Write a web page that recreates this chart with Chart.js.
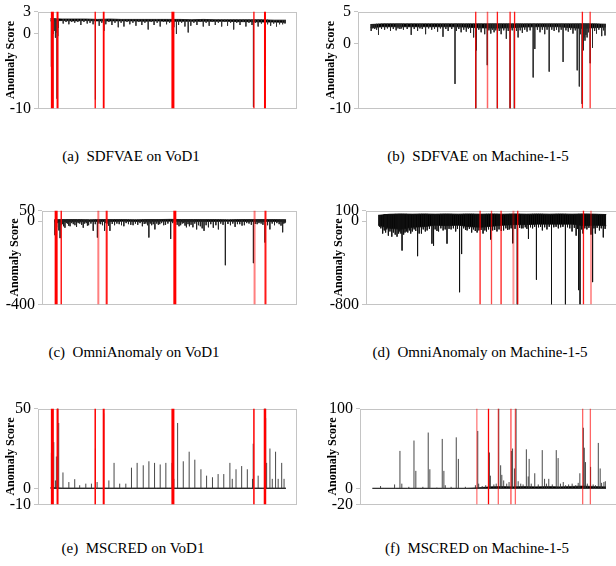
<!DOCTYPE html>
<html><head><meta charset="utf-8">
<script src="https://cdn.jsdelivr.net/npm/chart.js@4"></script>
<style>
html,body{margin:0;padding:0;width:616px;height:566px;overflow:hidden;background:#fff;position:relative;}
.cap{position:absolute;font-family:"Liberation Serif","Times New Roman",Times,"DejaVu Serif",serif;font-size:15px;line-height:17px;color:#000;white-space:pre;transform:translateX(-50%);}
</style></head><body>
<script>
// ---------- data (time index 0..1000) ----------
const BAND_STEP = 50;
const anomaliesLeft  = [8, 30, 190, 226, 520, 864, 911];
const anomaliesRight = [447, 497, 539, 593, 612, 900, 933];

// (a) SDFVAE on VoD1
const aTicks = [3, 0, -10];
const aBandTop = [2.05,2.0,2.0,2.0,1.95,2.0,1.95,1.95,1.95,1.95,1.95,1.95,1.9,1.95,1.9,1.9,1.9,1.9,1.9,1.85,1.85];
const aBandBot = [1.75,1.8,1.75,1.8,1.75,1.75,1.75,1.75,1.7,1.75,1.7,1.7,1.7,1.7,1.7,1.7,1.65,1.65,1.6,1.6,1.55];
const aSpikeIdx = [4,8,12,16,21,25,28,31,34,54,66,78,90,103,116,129,142,156,168,181,191,207,218,227,235,248,261,274,288,300,312,325,337,350,363,375,388,401,415,428,440,453,466,480,493,506,518,524,535,544,557,571,585,596,609,622,636,649,661,674,687,700,713,727,740,752,765,778,791,805,818,830,843,856,862,870,882,896,911,922,935,948,960,973,986,996];
const aSpikeVal = [-4.4,-1.0,0.0,0.4,-0.5,0.2,-8.7,-0.3,0.8,1.4,1.6,1.3,1.6,1.5,1.6,1.2,1.6,1.4,1.5,1.3,-8.8,1.1,1.5,0.4,1.3,1.6,1.2,1.5,0.9,1.5,1.0,1.6,1.3,1.5,1.1,1.6,1.2,1.5,0.6,1.6,1.2,1.5,1.0,1.6,1.3,1.5,0.5,0.9,0.0,1.2,1.5,1.0,0.2,1.1,1.5,1.2,1.6,1.0,1.5,1.1,1.6,1.2,1.5,1.0,1.6,1.1,1.5,0.6,1.5,1.2,1.6,1.0,1.5,1.2,-9.8,1.5,1.0,1.4,-4.3,1.3,1.1,1.4,1.0,1.3,1.3,1.4];

// (b) SDFVAE on Machine-1-5
const bTicks = [5, 0, -10];
const bBandTop = [3.0,3.1,3.1,3.1,3.1,3.1,3.1,3.1,3.1,3.1,3.1,3.1,3.1,3.1,3.1,3.1,3.1,3.1,3.1,3.1,3.05];
const bBandBot = [2.5,2.65,2.65,2.65,2.65,2.65,2.65,2.65,2.6,2.5,2.45,2.45,2.5,2.6,2.65,2.65,2.65,2.5,2.4,2.5,2.6];
const bSpikeIdx = [3,10,18,26,34,47,60,72,85,97,109,117,125,132,140,156,173,186,200,210,220,234,247,260,272,285,297,308,320,330,345,359,365,375,385,396,407,416,425,438,447,450,460,470,485,496,503,511,518,525,532,539,547,555,566,577,585,593,602,611,620,627,636,645,655,665,678,691,698,709,720,730,740,750,759,770,780,790,800,810,818,830,840,850,860,870,878,887,892,899,902,904,907,911,915,920,926,933,943,952,960,970,982,990,996];
const bSpikeVal = [2.0,2.4,2.3,2.2,1.4,2.3,2.2,2.4,2.0,2.3,2.1,2.4,2.3,2.4,2.2,2.3,1.4,2.3,2.0,2.4,2.3,1.5,2.4,2.2,2.3,1.9,2.4,1.1,2.3,2.0,2.3,-6.2,2.0,2.3,1.8,2.2,1.9,2.3,1.7,1.0,-10,-1.0,2.2,1.8,1.5,-3.3,2.1,1.6,2.2,1.8,2.1,-10,2.0,1.5,2.1,0.8,2.0,-10,2.1,-10,2.0,1.0,2.1,1.7,2.2,1.9,2.1,-5.2,-0.8,2.2,1.8,2.2,1.5,2.2,-4.3,2.2,2.0,2.2,1.8,2.2,-2.8,2.1,1.9,2.2,1.6,2.1,-4.1,-6.6,1.5,-9.3,0.2,-1.0,1.0,0.5,1.4,1.0,1.8,-3.0,-0.6,2.0,1.6,2.2,1.2,2.1,1.3];

// (c) OmniAnomaly on VoD1
const cTicks = [50, 0, -400];
const cBandTop = [6,7,7,6,7,7,7,6,7,7,8,7,7,7,7,6,7,7,7,7,6];
const cBandBot = [-4,-2,-2,-2,-2,-2,-1,-2,-2,-1,-1,-2,-2,-2,-2,-1,-2,-2,-2,-2,-3];
const cSpikeIdx = [3,10,15,20,25,30,35,40,46,52,57,62,68,75,82,89,96,103,110,118,125,131,138,143,148,158,168,177,186,193,200,208,217,222,228,234,240,250,260,270,280,290,300,310,320,330,340,350,360,370,380,388,395,402,408,414,420,427,434,442,449,455,463,472,480,490,502,511,521,530,538,545,552,558,564,570,577,583,590,598,606,614,622,630,638,646,655,665,675,686,697,708,718,728,738,749,760,770,780,790,800,810,820,830,840,850,859,867,875,883,892,900,909,920,930,940,950,960,970,978,985,990,995];
const cSpikeVal = [-68,-30,-10,-45,-82,-20,-15,-25,-32,-10,-12,-22,-25,-10,-15,-20,-28,-10,-12,-18,-32,-12,-10,-22,-20,-12,-47,-15,-79,-12,-15,-20,-47,-10,-12,-22,-47,-14,-20,-12,-15,-20,-25,-10,-15,-18,-20,-12,-18,-10,-25,-14,-12,-20,-79,-12,-20,-15,-40,-12,-18,-15,-10,-20,-18,-12,-86,-10,-12,-18,-25,-20,-12,-10,-22,-30,-15,-25,-18,-30,-12,-40,-20,-25,-35,-47,-20,-30,-15,-32,-20,-40,-12,-18,-212,-14,-20,-12,-28,-15,-15,-22,-20,-10,-12,-18,-202,-14,-15,-10,-12,-18,-103,-20,-40,-12,-20,-10,-15,-22,-54,-12,-10];

// (d) OmniAnomaly on Machine-1-5
const dTicks = [100, 0, -800];
const dBandTop = [55,65,68,66,68,66,68,66,68,66,68,66,68,66,68,66,68,66,68,66,62];
const dBandBot = [-40,-70,-80,-60,-55,-40,-45,-40,-55,-60,-50,-40,-35,-35,-30,-30,-30,-30,-45,-40,-45];
const dSpikeIdx = [3,6,12,20,27,33,38,45,52,60,67,75,83,90,95,100,105,112,118,124,130,137,143,150,158,165,173,180,190,198,207,215,225,236,243,250,258,265,275,285,294,302,311,320,330,340,348,357,366,375,383,390,400,410,418,426,434,442,451,460,468,475,484,493,502,511,521,530,540,550,560,568,575,583,590,600,610,620,628,635,645,652,659,668,677,686,694,703,712,720,730,740,750,760,770,780,790,800,810,821,830,840,850,860,868,874,879,885,892,898,906,915,924,933,940,946,952,960,970,978,987,995];
const dSpikeVal = [-40,-54,-70,-120,-90,-110,-80,-140,-100,-150,-110,-130,-150,-120,-100,-120,-283,-130,-110,-100,-110,-90,-120,-100,-80,-95,-337,-120,-120,-80,-100,-90,-75,-217,-237,-80,-95,-100,-70,-90,-80,-217,-75,-80,-70,-100,-75,-683,-317,-70,-85,-90,-75,-110,-80,-95,-110,-90,-85,-120,-90,-100,-80,-177,-90,-85,-100,-80,-95,-90,-70,-85,-80,-70,-214,-75,-800,-65,-70,-70,-60,-75,-171,-60,-70,-55,-563,-60,-55,-90,-60,-80,-55,-800,-60,-55,-70,-60,-55,-800,-60,-70,-100,-65,-140,-75,-663,-800,-80,-120,-70,-80,-65,-130,-586,-70,-120,-65,-90,-70,-157,-75];

// (e) MSCRED on VoD1
const eTicks = [50, 0, -10];
const eBandTop = [0.6,0.3,0.3,0.3,0.3,0.3,0.3,0.3,0.3,0.3,0.3,0.3,0.3,0.3,0.3,0.3,0.3,0.3,0.3,0.3,0.3];
const eBandBot = [0,0,0,0,0,0,0,0,0,0,0,0,0,0,0,0,0,0,0,0,0];
const eSpikeIdx = [4,8,14,21,25,31,35,53,78,103,124,150,174,191,198,226,248,270,294,320,344,368,394,418,442,466,490,516,524,540,564,589,613,639,663,688,712,736,762,772,788,812,836,858,861,882,911,914,918,932,942,956,967,982,992];
const eSpikeVal = [22.3,12,29,5,20,60,41,10,4,5.8,2,3,3,25,4,47,5,16,3,3,13,16,14.5,17,16,15,16,16,6,41,17,23,18,12,8,7,9,9,16,6,12,14,12,6,28,8,60,44,16,25,6,23,6,16,6];

// (f) MSCRED on Machine-1-5
const fTicks = [100, 0, -20];
const fBandTop = [0.3,0.3,0.3,0.3,0.3,0.3,0.3,0.3,0.3,0.8,2.0,2.5,2.0,2.5,2.0,2.5,2.0,2.5,3.0,2.5,2.0];
const fBandBot = [0,0,0,0,0,0,0,0,0,0,0,0,0,0,0,0,0,0,0,0,0];
const fSpikeIdx = [35,95,118,126,156,178,186,216,239,246,276,299,306,312,337,359,368,398,441,451,455,470,485,501,505,520,530,541,549,554,562,575,585,595,600,608,615,624,635,645,659,667,671,680,695,710,727,737,745,755,770,787,795,805,817,827,840,855,870,881,888,903,907,912,920,934,945,955,967,975,981,991,997];
const fSpikeVal = [3,5,47,6,2,60,22,2,70,24,1,62,22,4,2,64,37,2,4,72,6,3,4,45,16,5,6,100,29,17,10,6,8,47,50,25,100,9,6,5,49,15,37,6,19,5,48,12,6,12,5,48,38,6,8,4,5,6,4,7,19,76,51,33,6,27,5,4,57,25,7,8,9];

// ---------- rendering ----------
const SERIF = '"Liberation Serif", "Times New Roman", Times, "DejaVu Serif", serif';
const X_MIN = -53, X_MAX = 1047;
const framePlugin = {
  id: 'frame',
  beforeDatasetsDraw(c) {
    const {ctx, chartArea: a} = c;
    ctx.save();
    ctx.strokeStyle = '#c4c4c4';
    ctx.lineWidth = 1;
    ctx.strokeRect(Math.round(a.left) + 0.5, Math.round(a.top) + 0.5,
                   Math.round(a.right - a.left) - 1, Math.round(a.bottom - a.top) - 1);
    ctx.restore();
  }
};

function bandPoints(arr) { return arr.map((v, i) => ({x: i * BAND_STEP, y: v})); }

function makePanel(g, yMin, yMax, ticks, bandTop, bandBot, spikeIdx, spikeVal, anomalies, redW, redA, bandW, spikeColor) {
  const cv = document.createElement('canvas');
  cv.width = 45 + g.w + 2; cv.height = g.h + 14;
  cv.style.cssText = `position:absolute;left:${g.l - 45}px;top:${g.t - 10}px;width:${cv.width}px;height:${cv.height}px`;
  document.body.appendChild(cv);
  const ds = [];
  anomalies.forEach((a, i) => ds.push({
    data: [{x: a, y: yMin}, {x: a, y: yMax}],
    borderColor: `rgba(255,0,0,${redA[i]})`, borderWidth: redW[i], fill: false
  }));
  const sp = [];
  spikeIdx.forEach((s, i) => {
    const v = spikeVal[i];
    const k = Math.min(bandTop.length - 1, Math.round(s / BAND_STEP));
    const base = v < bandBot[k] ? bandTop[k] : bandBot[k];
    sp.push({x: s, y: base}, {x: s, y: v}, {x: s, y: null});
  });
  ds.push({data: sp, borderColor: spikeColor, borderWidth: 0.9, spanGaps: false, fill: false});
  ds.push({data: bandPoints(bandTop), borderColor: '#000', borderWidth: bandW, fill: '+1', backgroundColor: '#000'});
  ds.push({data: bandPoints(bandBot), borderColor: '#000', borderWidth: bandW, fill: false});
  new Chart(cv, {
    type: 'line',
    data: {datasets: ds},
    options: {
      responsive: false, animation: false, events: [],
      layout: {padding: {top: 10, right: 2, bottom: 4, left: 0}},
      plugins: {legend: {display: false}, tooltip: {enabled: false}},
      elements: {point: {radius: 0}, line: {tension: 0}},
      scales: {
        x: {type: 'linear', min: X_MIN, max: X_MAX, display: false},
        y: {
          type: 'linear', min: yMin, max: yMax,
          afterBuildTicks: s => { s.ticks = ticks.map(v => ({value: v})); },
          afterFit: s => { s.width = 45; },
          border: {display: false},
          grid: {drawOnChartArea: false, drawTicks: true, tickLength: 4, color: '#c4c4c4'},
          ticks: {autoSkip: false, padding: 3, color: '#000', font: {family: SERIF, size: 16}},
          title: {display: true, text: 'Anomaly Score', color: '#000',
                  font: {family: SERIF, size: 12, weight: 'bold'}, padding: {top: 10.8, bottom: 0}}
        }
      }
    },
    plugins: [framePlugin]
  });
}

makePanel({l: 38, t: 9, w: 259, h: 108}, -10, 3, aTicks, aBandTop, aBandBot, aSpikeIdx, aSpikeVal,
  anomaliesLeft, [3, 2, 1.3, 1.8, 3, 1.3, 2], [1, 1, 1, 1, 1, 1, 1], 0.8, '#333');
makePanel({l: 358, t: 9, w: 259, h: 108}, -10, 5, bTicks, bBandTop, bBandBot, bSpikeIdx, bSpikeVal,
  anomaliesRight, [1.3, 1.5, 1.3, 1.3, 1.3, 1.3, 1.3], [0.9, 0.6, 0.9, 0.9, 0.9, 0.9, 0.8], 0.8, '#2a2a2a');
makePanel({l: 42, t: 208, w: 255, h: 105}, -400, 50, cTicks, cBandTop, cBandBot, cSpikeIdx, cSpikeVal,
  anomaliesLeft, [3, 1.5, 2, 2, 3, 2, 2], [1, 0.9, 0.5, 0.9, 1, 0.5, 0.9], 0.7, '#222');
makePanel({l: 366, t: 208, w: 251, h: 105}, -800, 100, dTicks, dBandTop, dBandBot, dSpikeIdx, dSpikeVal,
  anomaliesRight, [1.3, 1.3, 1.3, 2, 1.3, 1.3, 2], [0.9, 0.7, 0.9, 0.4, 0.9, 0.9, 0.4], 0.8, '#111');
makePanel({l: 38, t: 406, w: 259, h: 107}, -10, 50, eTicks, eBandTop, eBandBot, eSpikeIdx, eSpikeVal,
  anomaliesLeft, [3, 2, 1.5, 2, 3, 1.5, 2.5], [1, 1, 1, 1, 1, 1, 1], 0.6, '#333');
makePanel({l: 360, t: 406, w: 257, h: 107}, -20, 100, fTicks, fBandTop, fBandBot, fSpikeIdx, fSpikeVal,
  anomaliesRight, [1.5, 1.3, 1.3, 1.3, 1.3, 1.3, 1.3], [0.45, 1, 0.6, 0.7, 0.6, 0.6, 0.6], 0.6, '#333');

// captions
const captions = [
  ['(a)  SDFVAE on VoD1', 131, 156], ['(b)  SDFVAE on Machine-1-5', 478, 156],
  ['(c)  OmniAnomaly on VoD1', 134, 352], ['(d)  OmniAnomaly on Machine-1-5', 480, 352],
  ['(e)  MSCRED on VoD1', 133, 548], ['(f)  MSCRED on Machine-1-5', 477, 548]
];
captions.forEach(([t, x, y]) => {
  const d = document.createElement('div');
  d.className = 'cap'; d.textContent = t;
  d.style.left = x + 'px'; d.style.top = (y - 8.5) + 'px';
  document.body.appendChild(d);
});
</script>
</body></html>
